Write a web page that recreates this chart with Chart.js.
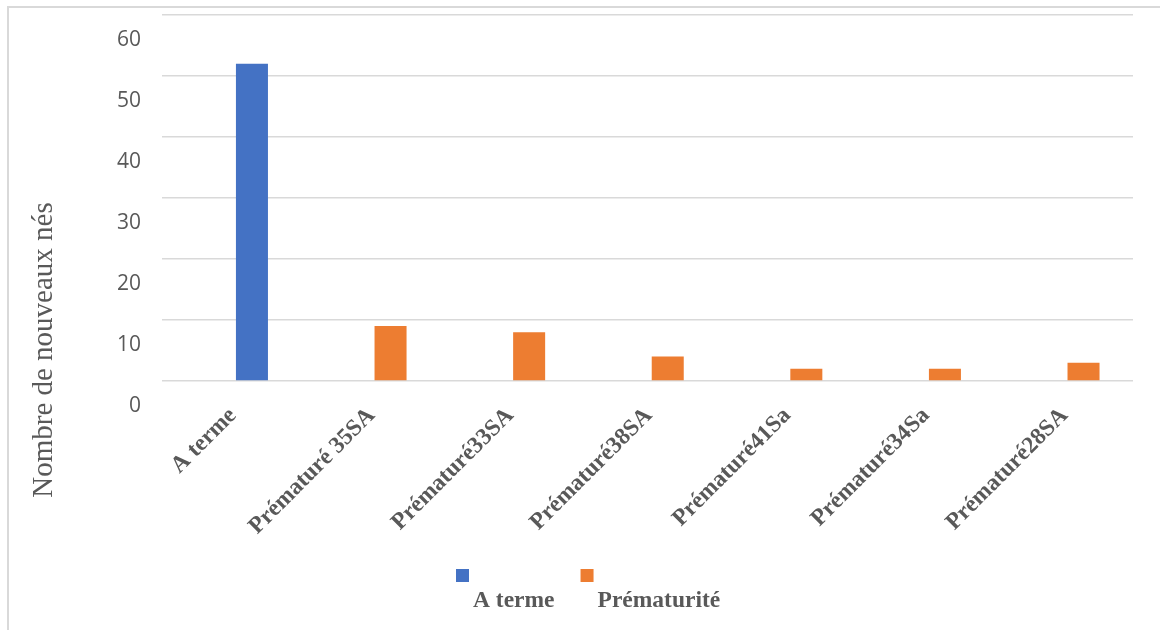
<!DOCTYPE html>
<html lang="fr">
<head>
<meta charset="utf-8">
<title>Nombre de nouveaux nés selon le terme</title>
<script src="https://cdn.jsdelivr.net/npm/chart.js@4/dist/chart.umd.min.js"></script>
<style>
  html, body { margin: 0; padding: 0; background: #ffffff; }
  #wrap { position: relative; width: 1160px; height: 630px; }
  canvas { display: block; }
</style>
</head>
<body>
<div id="wrap"><canvas id="chart" width="1160" height="630"></canvas></div>
<script>
// Categories shown along the horizontal axis
const categories = ['A terme', 'Prématuré 35SA', 'Prématuré33SA', 'Prématuré38SA', 'Prématuré41Sa', 'Prématuré34Sa', 'Prématuré28SA'];

// Number of newborns per category, one array per series (null = no bar)
const aTermeValues      = [52, null, null, null, null, null, null];
const prematuriteValues = [null, 9, 8, 4, 2, 2, 3];

// Vertical axis ticks
const yTicks = [0, 10, 20, 30, 40, 50, 60];

const seriesNames = ['A terme', 'Prématurité'];
const seriesColors = ['#4472C4', '#ED7D31'];
const yTitle = 'Nombre de nouveaux nés';

const GREY_TEXT = '#595959';
const GRID = '#d9d9d9';

function toPoints(values) {
  const pts = [];
  values.forEach((v, i) => { if (v !== null) pts.push({ x: i, y: v }); });
  return pts;
}

// Frame, rotated axis title and legend drawn on the canvas
const decorations = {
  id: 'decorations',
  beforeDraw(chart) {
    const ctx = chart.ctx;
    ctx.save();
    ctx.strokeStyle = GRID;
    ctx.lineWidth = 2;
    ctx.beginPath();
    ctx.moveTo(8, 630);
    ctx.lineTo(8, 7);
    ctx.lineTo(1160, 7);
    ctx.stroke();
    ctx.restore();
  },
  afterDraw(chart) {
    const ctx = chart.ctx;
    ctx.save();
    // y-axis title
    ctx.fillStyle = GREY_TEXT;
    ctx.font = '29px "Liberation Serif", "Times New Roman", serif';
    ctx.textAlign = 'center';
    ctx.textBaseline = 'middle';
    ctx.translate(44, 350);
    ctx.rotate(-Math.PI / 2);
    ctx.fillText(yTitle, 0, 0);
    ctx.restore();

    // legend: swatch above-left, bold label below
    ctx.save();
    ctx.font = 'bold 23.5px "Liberation Serif", "Times New Roman", serif';
    ctx.textAlign = 'left';
    ctx.textBaseline = 'alphabetic';
    let x = 456;
    chart.data.datasets.forEach(ds => {
      ctx.fillStyle = ds.backgroundColor;
      ctx.fillRect(x, 569, 13, 13);
      ctx.fillStyle = GREY_TEXT;
      ctx.fillText(ds.label, x + 17, 607);
      x += 17 + ctx.measureText(ds.label).width + 26;
    });
    ctx.restore();
  }
};

new Chart(document.getElementById('chart'), {
  type: 'bar',
  data: {
    datasets: [
      { label: seriesNames[0], data: toPoints(aTermeValues), backgroundColor: seriesColors[0] },
      { label: seriesNames[1], data: toPoints(prematuriteValues), backgroundColor: seriesColors[1] }
    ]
  },
  options: {
    responsive: false,
    animation: false,
    grouped: false,
    barPercentage: 0.231,
    categoryPercentage: 1,
    layout: { padding: { left: 0, top: 15, right: 27, bottom: 0 } },
    plugins: {
      legend: { display: false },
      tooltip: { enabled: false }
    },
    scales: {
      x: {
        type: 'linear',
        offset: false,
        min: -0.649,
        max: 6.357,
        grid: { display: false },
        border: { display: false },
        ticks: {
          stepSize: 1,
          includeBounds: false,
          autoSkip: false,
          minRotation: 45,
          maxRotation: 45,
          padding: 13,
          labelOffset: -19,
          color: GREY_TEXT,
          font: { family: '"Liberation Serif", "Times New Roman", serif', size: 23.5, weight: 'bold' },
          callback: (value) => Number.isInteger(value) ? (categories[value] ?? '') : ''
        },
        afterFit(scale) {
          scale.height = 249;
          scale.paddingLeft = 0;
          scale.paddingRight = 0;
        }
      },
      y: {
        min: yTicks[0],
        max: yTicks[yTicks.length - 1],
        afterBuildTicks(scale) { scale.ticks = yTicks.map(v => ({ value: v })); },
        grid: { color: GRID, lineWidth: 1.5, drawTicks: false },
        border: { display: false },
        ticks: {
          padding: 21,
          labelOffset: 25,
          color: GREY_TEXT,
          font: { family: '"Open Sans", "Liberation Sans", sans-serif', size: 21 }
        },
        afterFit(scale) {
          scale.width = 162;
          scale.paddingTop = 0;
          scale.paddingBottom = 0;
        }
      }
    }
  },
  plugins: [decorations]
});
</script>
</body>
</html>
